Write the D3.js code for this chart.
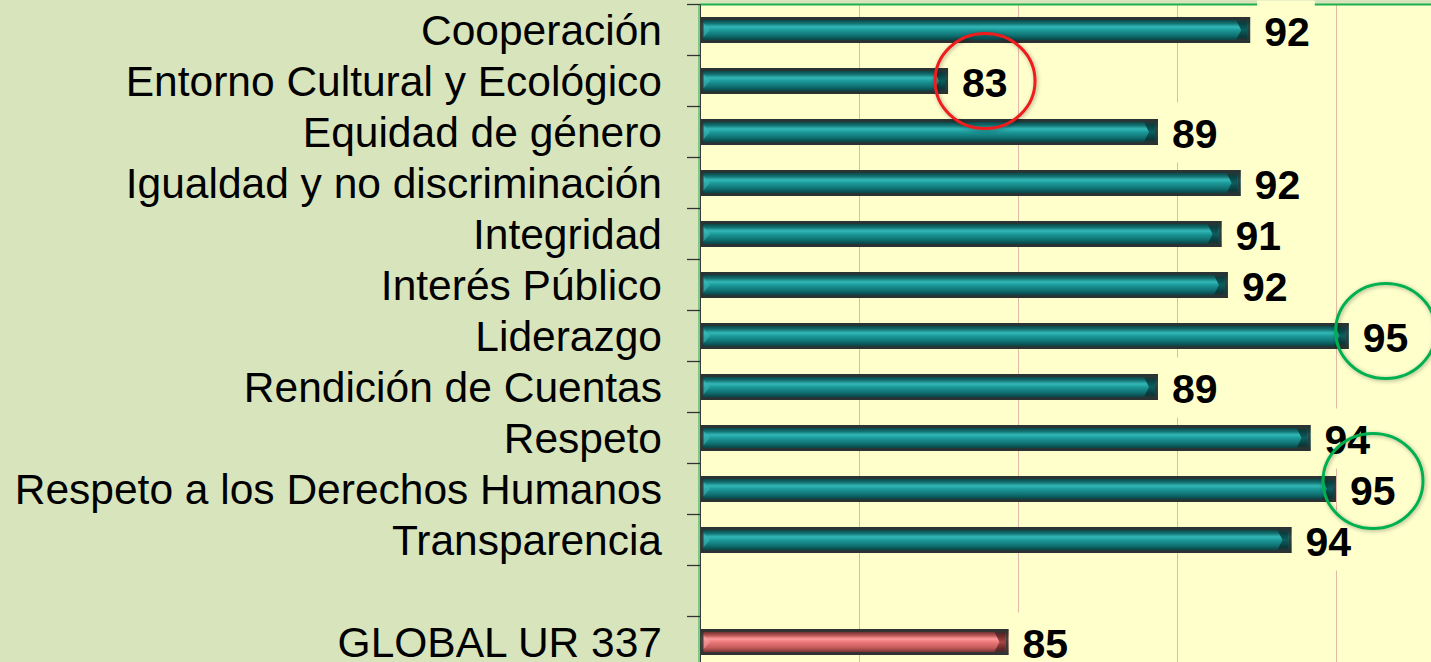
<!DOCTYPE html>
<html>
<head>
<meta charset="utf-8">
<script src="https://cdn.jsdelivr.net/npm/d3@7"></script>
<style>
  html, body { margin: 0; padding: 0; background: #d8e4bc; }
  svg { display: block; }
</style>
</head>
<body>
<svg id="grafico"></svg>
<script>
// Datos
var categorias = ["Cooperación", "Entorno Cultural y Ecológico", "Equidad de género",
  "Igualdad y no discriminación", "Integridad", "Interés Público", "Liderazgo",
  "Rendición de Cuentas", "Respeto", "Respeto a los Derechos Humanos", "Transparencia"];
var valores = [92.3, 82.8, 89.4, 92.0, 91.4, 91.6, 95.4, 89.4, 94.2, 95.0, 93.6];
var etiquetaGlobal = "GLOBAL UR 337";
var valorGlobal = 84.7;
var marcasX = [80, 85, 90, 95];
// circulos de resaltado: fila y color
var resaltados = [
  { fila: "Entorno Cultural y Ecológico", color: "#ee1c1c", dy: 0 },
  { fila: "Liderazgo", color: "#00b050", dy: -5 },
  { fila: "Respeto a los Derechos Humanos", color: "#00b050", dy: -8 }
];

var anchura = 1431, altura = 662;
var izq = 700, arriba = 4.5, paso = 51;

var filas = categorias.concat([" ", etiquetaGlobal]);
var datos = categorias.map(function (c, i) { return { cat: c, v: valores[i], global: false }; });
datos.push({ cat: etiquetaGlobal, v: valorGlobal, global: true });

var svg = d3.select("#grafico").attr("width", anchura).attr("height", altura);

var x = d3.scaleLinear().domain([75, 100]).range([izq, izq + 25 * 31.8]);
var y = d3.scaleBand().domain(filas).range([arriba, arriba + filas.length * paso]).padding(0);

var defs = svg.append("defs");
function degradado(id, stops) {
  var g = defs.append("linearGradient").attr("id", id)
    .attr("x1", 0).attr("y1", 0).attr("x2", 0).attr("y2", 1);
  stops.forEach(function (s) {
    g.append("stop").attr("offset", s[0]).attr("stop-color", s[1]);
  });
}
degradado("teal", [[0, "#2a3434"], [0.12, "#0c4a4b"], [0.24, "#12706f"], [0.38, "#33b8b8"],
  [0.5, "#1c9a9a"], [0.72, "#0f6f70"], [0.86, "#0a4a4b"], [1, "#2a3030"]]);
degradado("tealFin", [[0, "#2a3434"], [0.15, "#083f40"], [0.5, "#0d5e5e"], [0.85, "#073a3b"], [1, "#2a3030"]]);
degradado("rojo", [[0, "#3a2c2c"], [0.12, "#763232"], [0.24, "#b45252"], [0.38, "#ff9a9a"],
  [0.5, "#ec7a7a"], [0.72, "#c45a5a"], [0.86, "#863a3a"], [1, "#3a2e2e"]]);
degradado("rojoFin", [[0, "#3a2c2c"], [0.15, "#662626"], [0.5, "#a44646"], [0.85, "#662626"], [1, "#3a2e2e"]]);

var sombra = defs.append("filter").attr("id", "sombra")
  .attr("x", "-20%").attr("y", "-20%").attr("width", "140%").attr("height", "140%");
sombra.append("feGaussianBlur").attr("in", "SourceAlpha").attr("stdDeviation", 2).attr("result", "b");
sombra.append("feOffset").attr("in", "b").attr("dx", 1).attr("dy", 1).attr("result", "o");
sombra.append("feComponentTransfer").attr("in", "o").attr("result", "t")
  .append("feFuncA").attr("type", "linear").attr("slope", 0.35);
var mezcla = sombra.append("feMerge");
mezcla.append("feMergeNode").attr("in", "t");
mezcla.append("feMergeNode").attr("in", "SourceGraphic");

//Fondo
svg.append("rect").attr("width", anchura).attr("height", altura).attr("fill", "#d8e4bc");
svg.append("rect").attr("x", izq).attr("y", arriba).attr("width", anchura - izq).attr("height", altura)
  .attr("fill", "#ffffcc");

//Lineas de division
svg.append("g").selectAll("line").data(marcasX).join("line")
  .attr("x1", function (d) { return x(d); }).attr("x2", function (d) { return x(d); })
  .attr("y1", arriba).attr("y2", altura)
  .attr("stroke", "#e2b8a8").attr("stroke-width", 1).attr("shape-rendering", "crispEdges");

//Borde superior
svg.append("line").attr("x1", izq).attr("x2", anchura).attr("y1", arriba).attr("y2", arriba)
  .attr("stroke", "#1db04c").attr("stroke-width", 2);

//Etiquetas de valor (con fondo que tapa las lineas)
var etiquetas = svg.append("g").selectAll("g").data(datos).join("g")
  .attr("transform", function (d) {
    return "translate(" + (x(d.v) + 14) + "," + (y(d.cat) + y.bandwidth() / 2 + 1.5) + ")";
  });
etiquetas.append("text")
  .attr("dy", "0.36em")
  .style("font", "bold 41px 'Liberation Sans', Arial, sans-serif")
  .attr("fill", "#000")
  .text(function (d) { return Math.round(d.v); })
  .each(function () {
    var bb = this.getBBox();
    d3.select(this.parentNode).insert("rect", "text")
      .attr("x", bb.x - 7).attr("y", -31).attr("width", bb.width + 12).attr("height", 60)
      .attr("fill", "#ffffcc");
  });

//Barras
var alto = 26;
var barras = svg.append("g").selectAll("g").data(datos).join("g")
  .attr("transform", function (d) { return "translate(0," + (y(d.cat) + y.bandwidth() / 2 - alto / 2) + ")"; });
barras.append("rect")
  .attr("x", x(75) + 1).attr("y", 0)
  .attr("width", function (d) { return x(d.v) - x(75) - 1; })
  .attr("height", alto)
  .attr("fill", function (d) { return d.global ? "url(#rojo)" : "url(#teal)"; });
//bisel derecho
barras.append("path")
  .attr("d", function (d) {
    var x1 = x(d.v) - 3;
    return "M" + (x1 - 11) + ",3 L" + x1 + ",3 L" + x1 + "," + (alto - 3) +
      " L" + (x1 - 11) + "," + (alto - 3) + " L" + (x1 - 6) + "," + (alto / 2) + "Z";
  })
  .attr("fill", function (d) { return d.global ? "url(#rojoFin)" : "url(#tealFin)"; });
//bisel izquierdo
barras.append("path")
  .attr("d", "M" + (x(75) + 2) + ",4 L" + (x(75) + 10) + "," + (alto / 2) + " L" + (x(75) + 2) + "," + (alto - 4) + "Z")
  .attr("fill", function (d) { return d.global ? "#f4a0a0" : "#3fb8b8"; })
  .attr("opacity", 0.55);
//borde oscuro
barras.append("rect")
  .attr("x", x(75) + 2).attr("y", 1.5)
  .attr("width", function (d) { return x(d.v) - x(75) - 3.5; })
  .attr("height", alto - 3)
  .attr("fill", "none").attr("stroke", "#2b3333").attr("stroke-width", 3).attr("opacity", 0.85);

//Eje de categorias
var eje = svg.append("g").attr("transform", "translate(" + izq + ",0)")
  .call(d3.axisLeft(y).tickSize(0).tickPadding(38).tickFormat(function (d) { return d.trim(); }));
eje.select(".domain").remove();
eje.selectAll("text")
  .style("font", "42.5px 'Liberation Sans', Arial, sans-serif")
  .attr("fill", "#000").attr("dy", "0.35em");

svg.append("line").attr("x1", izq - 1).attr("x2", izq - 1).attr("y1", arriba).attr("y2", altura)
  .attr("stroke", "#1db04c").attr("stroke-width", 1);
svg.append("line").attr("x1", izq + 0.5).attr("x2", izq + 0.5).attr("y1", arriba).attr("y2", altura)
  .attr("stroke", "#3a3a3a").attr("stroke-width", 1);

//marcas en los limites de cada categoria
var limites = filas.map(function (f) { return y(f); }).concat([y.range()[1]]);
svg.append("g").selectAll("line").data(limites).join("line")
  .attr("x1", izq - 13).attr("x2", izq).attr("y1", function (d) { return d; }).attr("y2", function (d) { return d; })
  .attr("stroke", "#333").attr("stroke-width", 1.3);

//Circulos de resaltado
svg.append("g").selectAll("ellipse").data(resaltados).join("ellipse")
  .attr("cx", function (d) { return x(valores[categorias.indexOf(d.fila)]) + 37; })
  .attr("cy", function (d) { return y(d.fila) + y.bandwidth() / 2 + d.dy; })
  .attr("rx", 50).attr("ry", 47.5)
  .attr("fill", "none")
  .attr("stroke", function (d) { return d.color; })
  .attr("stroke-width", 3)
  .attr("filter", "url(#sombra)");
</script>
</body>
</html>
